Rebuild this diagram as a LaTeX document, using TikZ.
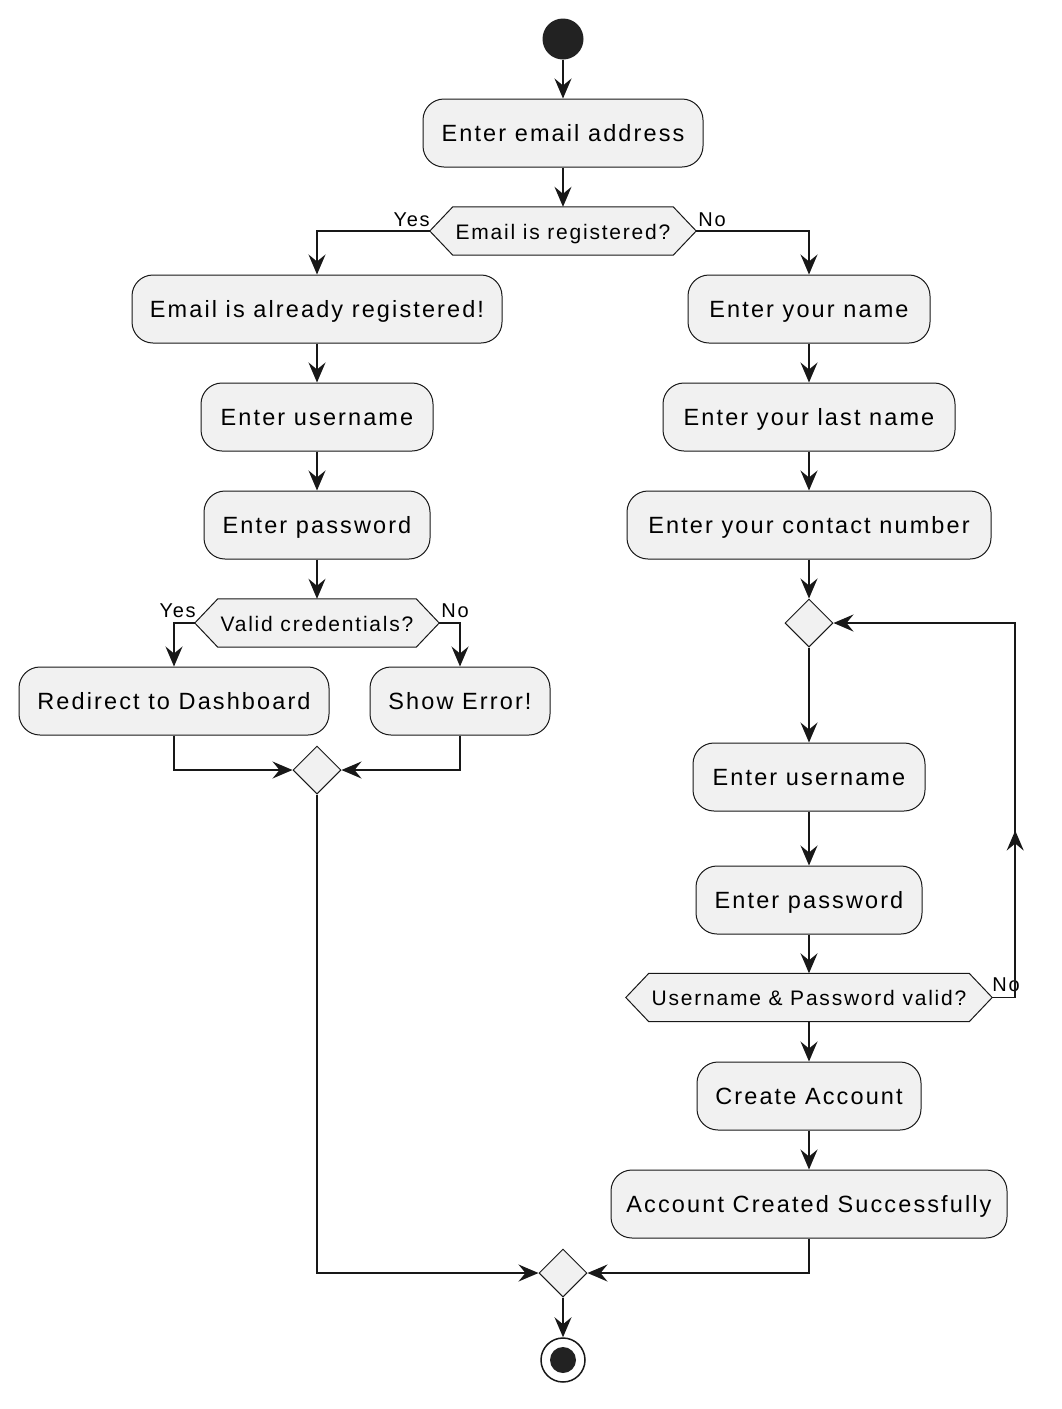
\documentclass[tikz,border=0pt]{standalone}
\usepackage{fontspec}
\setmainfont{Liberation Sans}
\newfontfamily\boxfont[LetterSpace=9]{Liberation Sans}
\newfontfamily\decfont[LetterSpace=8.5]{Liberation Sans}
\usetikzlibrary{arrows.meta,shapes.geometric,decorations.markings,backgrounds}
\definecolor{ln}{HTML}{181818}
\definecolor{bg}{HTML}{F1F1F1}
\definecolor{dot}{HTML}{222222}
\tikzset{
 act/.style={draw=ln, line width=1pt, fill=bg, rounded corners=21pt, minimum height=68pt, inner sep=0pt, text height=18pt, text depth=2pt, font=\boxfont\fontsize{23.5}{27}\selectfont, text=black},
 dec/.style={minimum height=48pt, inner sep=0pt, text height=17pt, text depth=1pt, font=\decfont\fontsize{21}{25}\selectfont, text=black},
 hexa/.style={draw=ln, line width=1pt, fill=bg},
 mrg/.style={diamond, draw=ln, line width=1pt, fill=bg, minimum width=48pt, minimum height=48pt, inner sep=0pt, aspect=1},
 tipA/.tip={Stealth[length=20pt,width=17pt,inset=7pt]},
 conn/.style={draw=ln, line width=1.5pt, -tipA},
 lbl/.style={inner sep=0pt, font=\decfont\fontsize{20}{24}\selectfont, text=black},
}
\newcommand\hexdec[5]{%
 \node[dec, minimum width=#4] (#1) at (#2,#3) {#5};
 \coordinate (#1L) at ([xshift=-23pt]#1.west);
 \coordinate (#1R) at ([xshift=23pt]#1.east);
 \begin{scope}[on background layer]
 \draw[hexa] (#1.north west) -- (#1.north east) -- (#1R) -- (#1.south east) -- (#1.south west) -- (#1L) -- cycle;
 \end{scope}}
\begin{document}
\begin{tikzpicture}[x=1pt,y=-1pt]
\begin{scope}[on background layer]
\fill[white] (0,0) rectangle (1061,1409);
\end{scope}
\useasboundingbox (0,0) rectangle (1061,1409);
% start / end
\node[circle, fill=dot, minimum size=41pt, inner sep=0pt] (start) at (563,39) {};
\node[circle, draw=ln, line width=1.5pt, fill=white, minimum size=44pt, inner sep=0pt,
  path picture={\fill[dot] (path picture bounding box.center) circle (13pt);}] (stop) at (563,1360) {};
% top
\node[act, minimum width=280pt] (email) at (563,133) {Enter email address};
\hexdec{d1}{563}{231}{220pt}{Email is registered?}
% left branch
\node[act, minimum width=370pt] (already) at (317,309) {Email is already registered!};
\node[act, minimum width=232pt] (userL) at (317,417) {Enter username};
\node[act, minimum width=226pt] (passL) at (317,525) {Enter password};
\hexdec{d2}{317}{623}{198pt}{Valid credentials?}
\node[act, minimum width=310pt] (redir) at (174,701) {Redirect to Dashboard};
\node[act, minimum width=180pt] (err) at (460,701) {Show Error!};
\node[mrg] (m1) at (317,770) {};
% right branch
\node[act, minimum width=242pt] (name) at (809,309) {Enter your name};
\node[act, minimum width=292pt] (last) at (809,417) {Enter your last name};
\node[act, minimum width=364pt] (contact) at (809,525) {Enter your contact number};
\node[mrg] (lp) at (809,623) {};
\node[act, minimum width=232pt] (userR) at (809,777) {Enter username};
\node[act, minimum width=226pt] (passR) at (809,900) {Enter password};
\hexdec{d3}{809}{997.5}{320pt}{Username \& Password valid?}
\node[act, minimum width=224pt] (create) at (809,1096) {Create Account};
\node[act, minimum width=396pt] (done) at (809,1204) {Account Created Successfully};
\node[mrg] (m2) at (563,1273) {};
% labels
\node[lbl, anchor=base east] (y1) at ([xshift=0pt,yshift=5pt]d1L) {Yes};
\node[lbl, anchor=base west] (n1) at ([xshift=2pt,yshift=5pt]d1R) {No};
\node[lbl, anchor=base east] (y2) at ([xshift=1pt,yshift=6pt]d2L) {Yes};
\node[lbl, anchor=base west] (n2) at ([xshift=2pt,yshift=6pt]d2R) {No};
\node[lbl, anchor=base west] (n3) at ([xshift=0pt,yshift=6pt]d3R) {No};
% connectors
\draw[conn] (start) -- (email);
\draw[conn] (email) -- (d1);
\draw[conn] (d1L) -| (already.north);
\draw[conn] (d1R) -| (name.north);
\draw[conn] (already) -- (userL);
\draw[conn] (userL) -- (passL);
\draw[conn] (passL) -- (d2);
\draw[conn] (d2L) -| (redir.north);
\draw[conn] (d2R) -| (err.north);
\draw[conn] (redir.south) |- (m1.west);
\draw[conn] (err.south) |- (m1.east);
\draw[conn] (m1.south) |- (m2.west);
\draw[conn] (name) -- (last);
\draw[conn] (last) -- (contact);
\draw[conn] (contact) -- (lp);
\draw[conn] (lp) -- (userR);
\draw[conn] (userR) -- (passR);
\draw[conn] (passR) -- (d3);
\draw[conn, postaction={decorate}, decoration={markings, mark=at position 190pt with {\arrow{tipA}}}]
  (d3R) -- ++(23,0) |- (lp.east);
\draw[conn] (d3) -- (create);
\draw[conn] (create) -- (done);
\draw[conn] (done.south) |- (m2.east);
\draw[conn] (m2) -- (stop);
\end{tikzpicture}
\end{document}
